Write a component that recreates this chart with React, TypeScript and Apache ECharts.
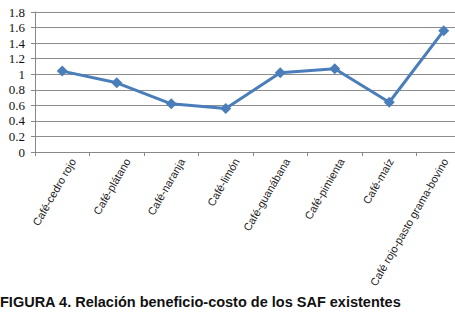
import React, { useEffect, useRef } from "react";
import * as echarts from "echarts";

const categories = [
  "Café-cedro rojo",
  "Café-plátano",
  "Café-naranja",
  "Café-limón",
  "Café-guanábana",
  "Café-pimienta",
  "Café-maíz",
  "Café rojo-pasto grama-bovino",
];
const values = [1.04, 0.89, 0.62, 0.56, 1.02, 1.07, 0.64, 1.56];
const title = "FIGURA 4. Relación beneficio-costo de los SAF existentes";

export default function App() {
  const ref = useRef<HTMLDivElement>(null);
  useEffect(() => {
    document.body.style.margin = "0";
    const chart = echarts.init(ref.current!, null, { renderer: "svg" });
    const sans = "'Liberation Sans', Arial, sans-serif";
    // per-label nudges [top, right] to mimic the source's label placement
    const nudges = [
      [25, 0], [25, 0], [25, 0], [25, 0], [18, 2], [18, 2], [9, 4.5], [9, 4.5],
    ];
    const rich: Record<string, any> = {};
    nudges.forEach((n, i) => {
      rich["p" + i] = {
        padding: [n[0], n[1], 0, 0],
        fontFamily: sans,
        fontSize: 11,
        color: "#222",
      };
    });
    chart.setOption({
      animation: false,
      backgroundColor: "#ffffff",
      title: {
        text: title,
        left: 0,
        top: 294,
        padding: 0,
        textStyle: {
          fontFamily: sans,
          fontWeight: "bold",
          fontSize: 14.5,
          color: "#111",
        },
      },
      grid: { left: 35, width: 436, top: 12, height: 140, outerBoundsMode: "none", containLabel: false },
      xAxis: {
        type: "category",
        data: categories,
        boundaryGap: true,
        axisLine: { lineStyle: { color: "#888", width: 1 } },
        axisTick: { show: true, length: 4, lineStyle: { color: "#888" } },
        axisLabel: {
          rotate: 60,
          interval: 0,
          margin: 1,
          fontFamily: sans,
          fontSize: 11,
          color: "#222",
          formatter: (v: string, i: number) => `{p${i}|${v}}`,
          rich,
        },
      },
      yAxis: {
        type: "value",
        min: 0,
        max: 1.8,
        interval: 0.2,
        axisLine: { show: true, lineStyle: { color: "#888" } },
        axisTick: { show: true, length: 4, lineStyle: { color: "#888" } },
        splitLine: { lineStyle: { color: "#8c8c8c", width: 1 } },
        axisLabel: {
          margin: 10,
          fontFamily: "'Liberation Serif', 'Times New Roman', serif",
          fontSize: 13,
          color: "#111",
          formatter: (v: number) => String(Math.round(v * 10) / 10),
        },
      },
      series: [
        {
          type: "line",
          data: values,
          symbol: "diamond",
          symbolSize: 11,
          lineStyle: { color: "#4a7ebb", width: 3 },
          itemStyle: { color: "#4a7ebb" },
        },
      ],
    });
    return () => chart.dispose();
  }, []);
  return <div ref={ref} style={{ width: 455, height: 313 }} />;
}
